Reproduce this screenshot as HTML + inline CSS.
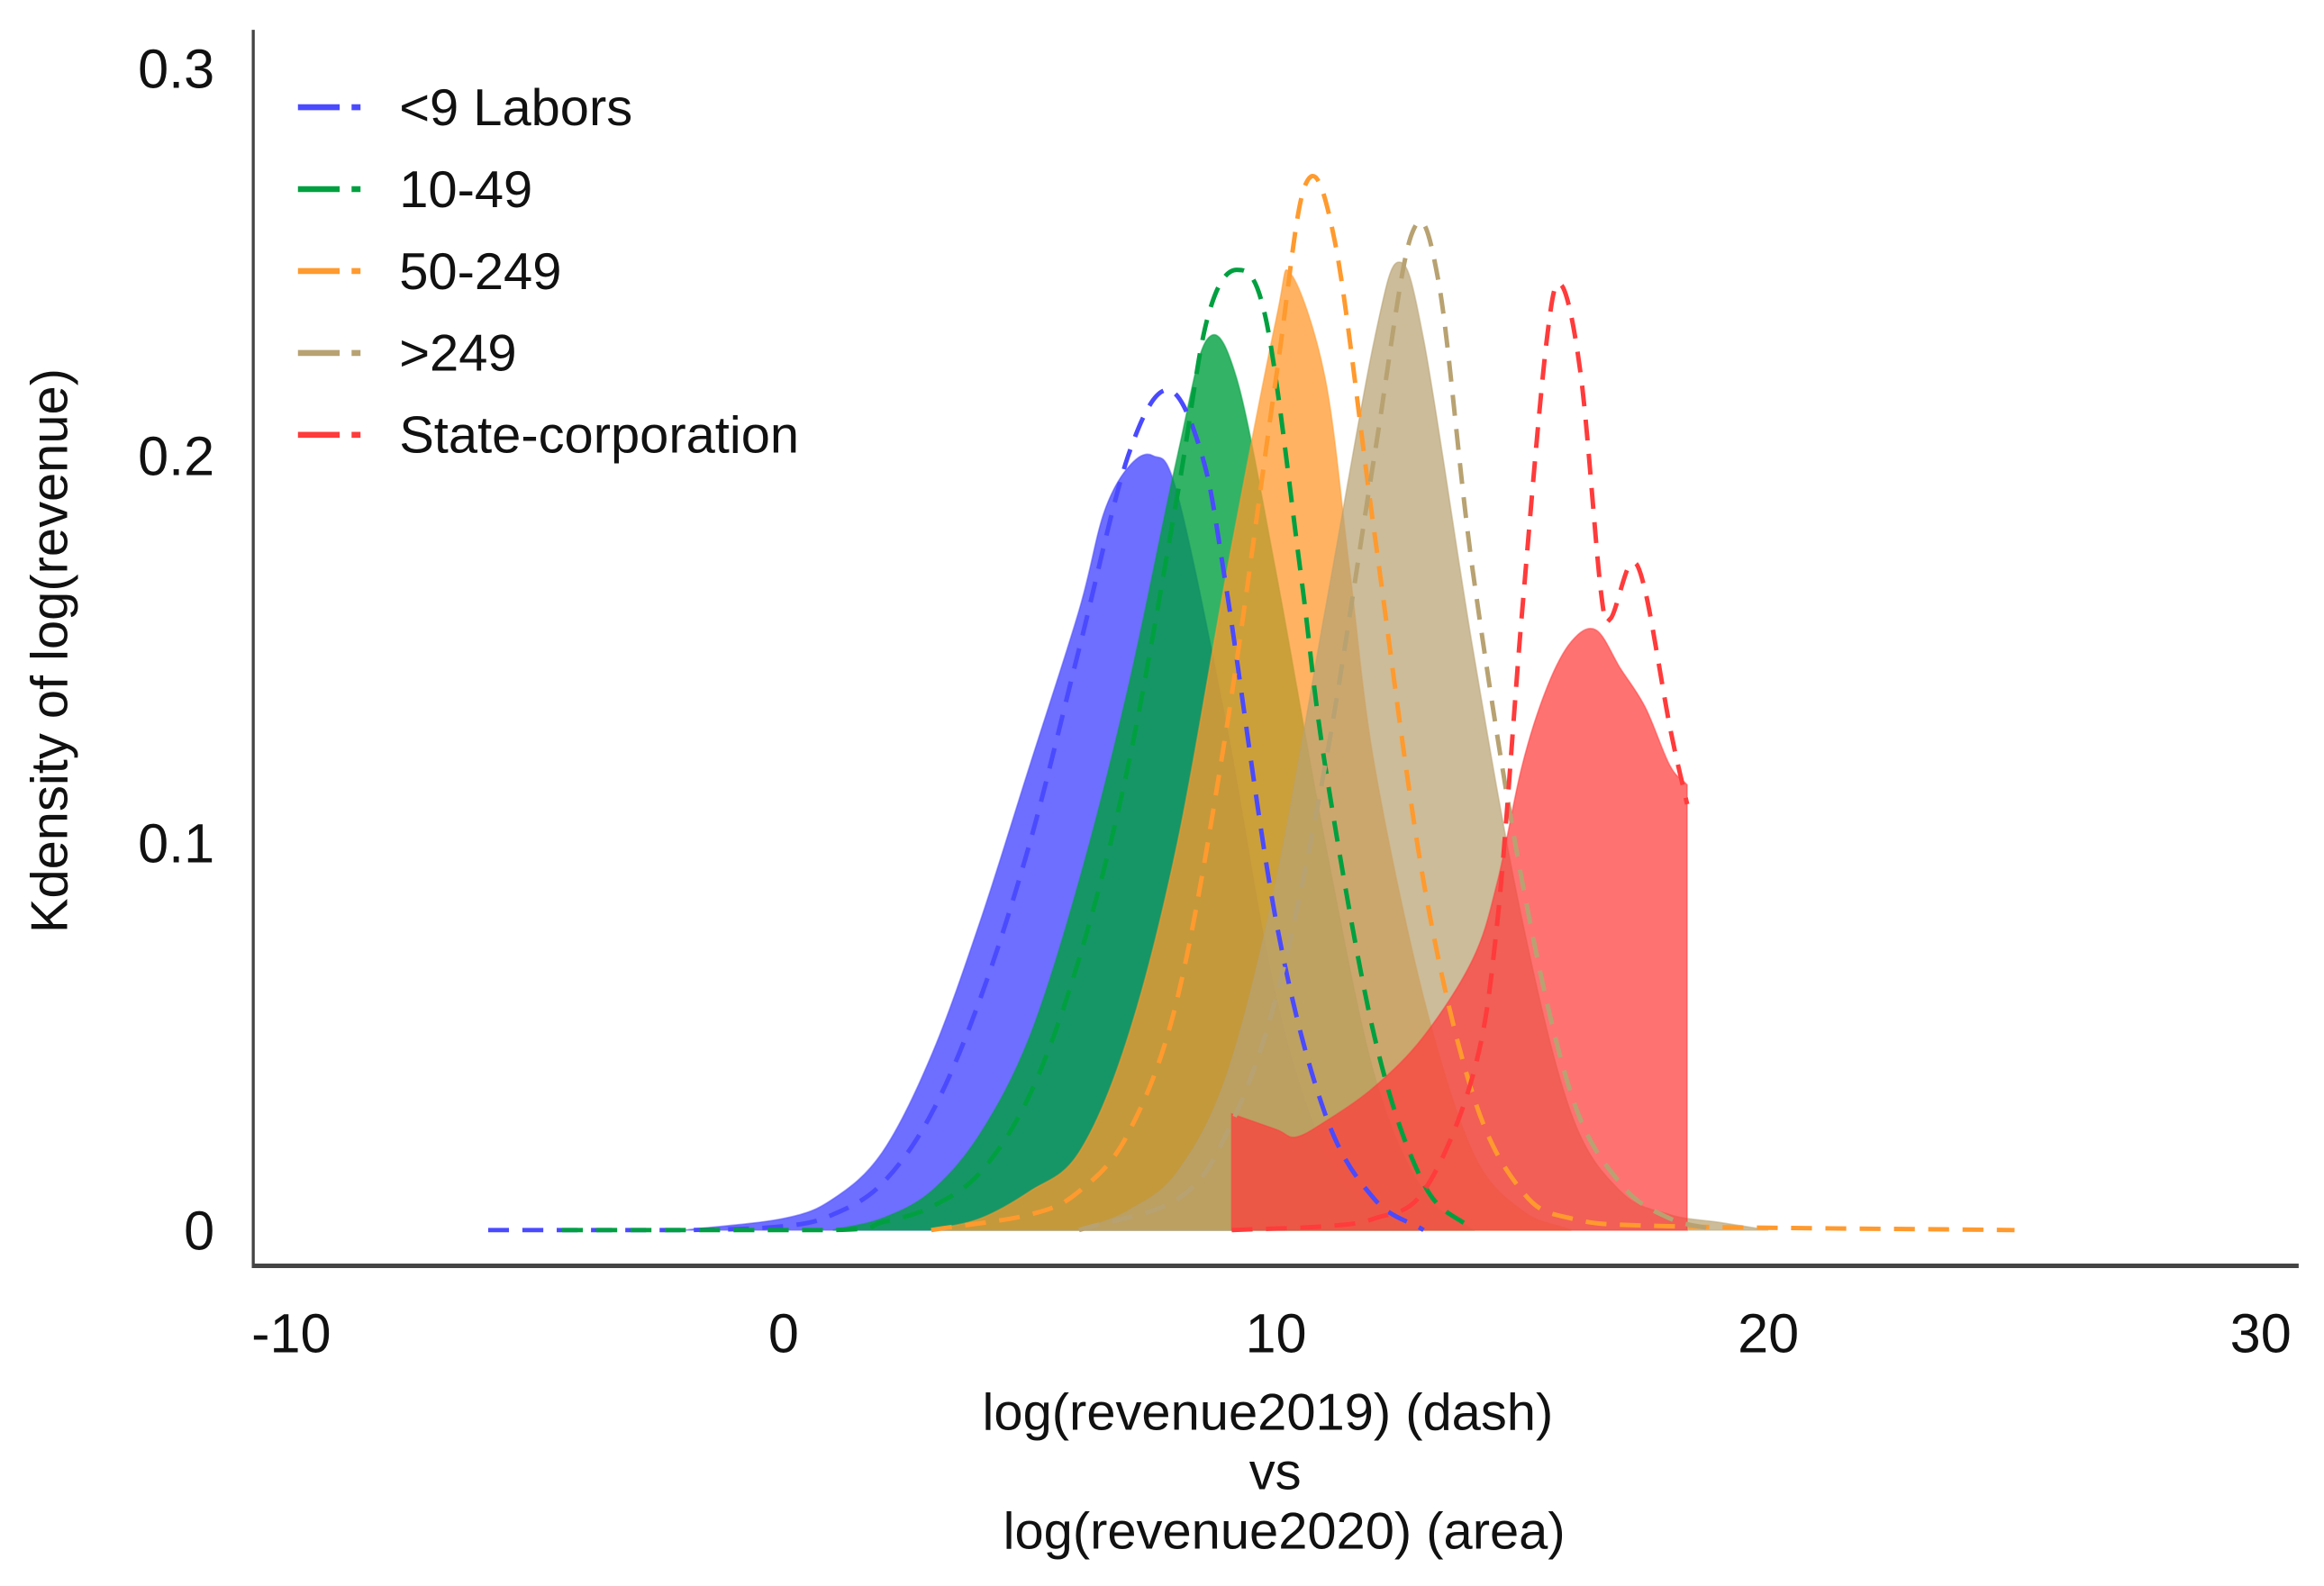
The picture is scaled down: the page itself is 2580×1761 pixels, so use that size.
<!DOCTYPE html>
<html><head><meta charset="utf-8"><style>
html,body{margin:0;padding:0;background:#fff}
svg{display:block}
text{font-family:"Liberation Sans",Arial,sans-serif;fill:#111}
</style></head><body>
<svg id="chart" width="2580" height="1761" viewBox="0 0 1560 1065" preserveAspectRatio="none" xmlns="http://www.w3.org/2000/svg">
<g id="areas"></g>
<g id="dashes"></g>
<line x1="170" y1="20" x2="170" y2="851" stroke="#444" stroke-width="2"/>
<line x1="169" y1="850" x2="1543" y2="850" stroke="#444" stroke-width="3"/>
<g id="ticks"></g>
<text transform="translate(45,437) rotate(-90)" text-anchor="middle" font-size="35">Kdensity of log(revenue)</text>
<text x="851" y="960" text-anchor="middle" font-size="35">log(revenue2019) (dash)</text>
<text x="856" y="1000" text-anchor="middle" font-size="35">vs</text>
<text x="862" y="1040" text-anchor="middle" font-size="35">log(revenue2020) (area)</text>
<g id="legend"></g>
</svg>
<script>
const xTicks=[-10,0,10,20,30];
const yTicks=[0,0.1,0.2,0.3];
const yTickLabels=["0","0.1","0.2","0.3"];
const seriesNames=["<9 Labors","10-49","50-249",">249","State-corporation"];
const blueAreaX=[-2,0,1,2,3,4,5,6,6.5,7,7.5,8,9,10,11,12,13];
const blueAreaY=[0,0.003,0.008,0.02,0.045,0.08,0.12,0.16,0.185,0.197,0.2,0.19,0.13,0.06,0.02,0.005,0];
const blueDashX=[-6,-2,0,1,2,3,4,5,6,7,7.8,8.5,9,10,11,12,13];
const blueDashY=[0,0,0.001,0.004,0.012,0.03,0.06,0.1,0.15,0.2,0.217,0.2,0.165,0.08,0.03,0.008,0];
const greenAreaX=[1,2,3,4,5,6,7,8,8.6,9.2,10,11,12,13,14];
const greenAreaY=[0,0.003,0.01,0.025,0.05,0.09,0.14,0.2,0.23,0.22,0.17,0.1,0.04,0.01,0];
const greenDashX=[-4.5,1,2,3,4,5,6,7,8,8.6,9.2,9.8,10.5,11,12,13,14];
const greenDashY=[0,0,0.002,0.006,0.015,0.035,0.07,0.12,0.19,0.235,0.248,0.235,0.17,0.12,0.05,0.012,0];
const orangeAreaX=[3,4,5,6,7,8,9,10,10.3,11,11.5,12,13,14,15,16];
const orangeAreaY=[0,0.003,0.01,0.02,0.05,0.1,0.17,0.235,0.247,0.22,0.17,0.12,0.06,0.02,0.005,0];
const orangeDashX=[3,5,6,7,8,9,10,10.6,11.2,12,13,14,15,16,18,25];
const orangeDashY=[0,0.004,0.01,0.025,0.06,0.13,0.22,0.27,0.255,0.18,0.09,0.035,0.01,0.003,0.001,0];
const tanAreaX=[6,7,8,9,10,11,12,12.5,13,14,15,16,17,18,19,20];
const tanAreaY=[0,0.005,0.015,0.04,0.09,0.16,0.23,0.25,0.23,0.15,0.08,0.03,0.01,0.004,0.002,0];
const tanDashX=[6,8,9,10,11,12,12.75,13.3,14,15,16,17,18,19];
const tanDashY=[0,0.008,0.025,0.06,0.12,0.2,0.257,0.245,0.17,0.09,0.035,0.012,0.003,0];
const redAreaX=[9.1,9.1,10,10.4,11,12,13,14,14.5,15,15.5,16,16.5,17,17.5,18,18.35,18.35];
const redAreaY=[0,0.03,0.026,0.024,0.028,0.037,0.05,0.07,0.09,0.12,0.14,0.152,0.155,0.145,0.135,0.12,0.115,0];
const redDashX=[9.1,11,12,13,14,14.5,15,15.5,15.8,16.2,16.6,16.8,17.2,17.5,18,18.35];
const redDashY=[0,0.001,0.003,0.01,0.04,0.08,0.16,0.23,0.244,0.22,0.165,0.158,0.172,0.165,0.13,0.11];

const colors=["#4a4aff","#00a040","#ff9a2e","#b8a272","#ff3b3b"];
const areaOps=[0.8,0.8,0.75,0.72,0.72];
const sx=v=>526+33.05*v;
const sy=d=>826-2600*d;
const NS="http://www.w3.org/2000/svg";
function pathD(xs,ys){
 const P=xs.map((v,i)=>[sx(v),sy(ys[i])]);
 let d="M"+P[0][0].toFixed(1)+","+P[0][1].toFixed(1);
 for(let i=0;i<P.length-1;i++){
  const p0=P[Math.max(0,i-1)],p1=P[i],p2=P[i+1],p3=P[Math.min(P.length-1,i+2)];
  if(Math.abs(p1[0]-p2[0])<0.01){d+=" L"+p2[0].toFixed(1)+","+p2[1].toFixed(1);continue;}
  const t=6;
  let c1x=p1[0]+(p2[0]-p0[0])/t,c1y=p1[1]+(p2[1]-p0[1])/t;
  let c2x=p2[0]-(p3[0]-p1[0])/t,c2y=p2[1]-(p3[1]-p1[1])/t;
  if(Math.abs(p0[0]-p1[0])<0.01){c1x=p1[0]+(p2[0]-p1[0])/3;c1y=p1[1]+(p2[1]-p1[1])/3;}
  if(Math.abs(p3[0]-p2[0])<0.01){c2x=p2[0]-(p2[0]-p1[0])/3;c2y=p2[1]-(p2[1]-p1[1])/3;}
  c1y=Math.min(c1y,826);c2y=Math.min(c2y,826);
  d+=` C${c1x.toFixed(1)},${c1y.toFixed(1)} ${c2x.toFixed(1)},${c2y.toFixed(1)} ${p2[0].toFixed(1)},${p2[1].toFixed(1)}`;
 }
 return d;
}
const areas=[[blueAreaX,blueAreaY],[greenAreaX,greenAreaY],[orangeAreaX,orangeAreaY],[tanAreaX,tanAreaY],[redAreaX,redAreaY]];
const dashes=[[blueDashX,blueDashY],[greenDashX,greenDashY],[orangeDashX,orangeDashY],[tanDashX,tanDashY],[redDashX,redDashY]];
const gA=document.getElementById("areas"),gD=document.getElementById("dashes");
areas.forEach((a,i)=>{
 const p=document.createElementNS(NS,"path");
 p.setAttribute("d",pathD(a[0],a[1])+" Z");
 p.setAttribute("fill",colors[i]);p.setAttribute("fill-opacity",areaOps[i]);
 p.setAttribute("stroke",colors[i]);p.setAttribute("stroke-opacity","0.5");
 
 
 gA.appendChild(p);
});
dashes.forEach((a,i)=>{
 const p=document.createElementNS(NS,"path");
 p.setAttribute("d",pathD(a[0],a[1]));
 p.setAttribute("fill","none");p.setAttribute("stroke",colors[i]);
 p.setAttribute("stroke-width","3");p.setAttribute("stroke-dasharray","14,9");
 
 
 gD.appendChild(p);
});
const gT=document.getElementById("ticks");
xTicks.forEach(v=>{
 const t=document.createElementNS(NS,"text");
 t.setAttribute("x",sx(v));t.setAttribute("y",908);t.setAttribute("text-anchor","middle");t.setAttribute("font-size","37");
 t.textContent=String(v);
 
 
 gT.appendChild(t);
});
yTicks.forEach((v,i)=>{
 const t=document.createElementNS(NS,"text");
 t.setAttribute("x",144);t.setAttribute("y",sy(v)+13);t.setAttribute("text-anchor","end");t.setAttribute("font-size","37");
 t.textContent=yTickLabels[i];
 
 
 gT.appendChild(t);
});
const gL=document.getElementById("legend");
seriesNames.forEach((n,i)=>{
 const y=72+55*i;
 const l=document.createElementNS(NS,"path");
 l.setAttribute("d",`M200,${y} L228,${y} M236,${y} L242,${y}`);
 l.setAttribute("stroke",colors[i]);l.setAttribute("stroke-width","4");
 
 
 gL.appendChild(l);
 const t=document.createElementNS(NS,"text");
 t.setAttribute("x",268);t.setAttribute("y",y+12);t.setAttribute("font-size","35");
 t.textContent=n;
 
 
 gL.appendChild(t);
});
</script>
</body></html>
